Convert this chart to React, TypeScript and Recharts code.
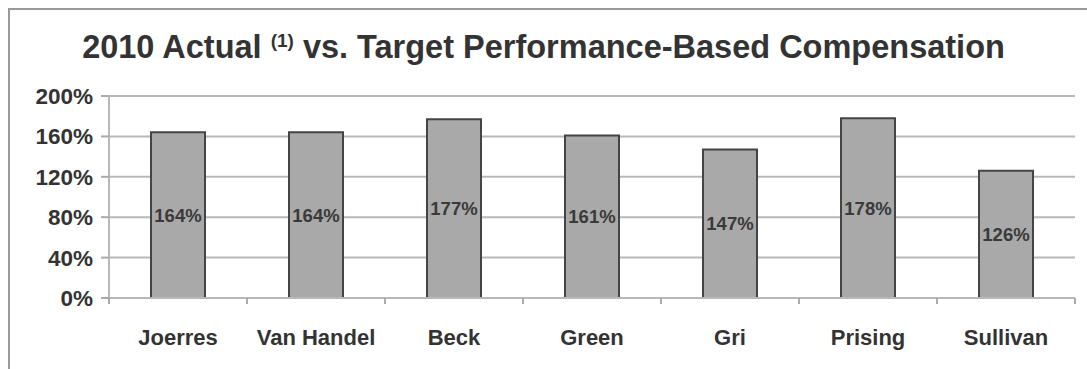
import { BarChart, Bar, XAxis, YAxis, CartesianGrid, LabelList } from "recharts";

const names = ["Joerres", "Van Handel", "Beck", "Green", "Gri", "Prising", "Sullivan"];
const actualPct = [164, 164, 177, 161, 147, 178, 126];
const yTicks = [0, 40, 80, 120, 160, 200];

const data = names.map((name, i) => ({ name, value: actualPct[i] }));

const FONT = "'Liberation Sans', Arial, Helvetica, sans-serif";
const BAND = (1075 - 109) / names.length;

// category labels with tick marks on the band edges (like the original)
function CategoryTick(props: any) {
  const { x, y, payload, index } = props;
  const last = index === names.length - 1;
  return (
    <g>
      <line x1={x - BAND / 2} y1={y - 8} x2={x - BAND / 2} y2={y - 2} stroke="#aaa" strokeWidth={2} />
      {last && (
        <line x1={x + BAND / 2} y1={y - 8} x2={x + BAND / 2} y2={y - 2} stroke="#aaa" strokeWidth={2} />
      )}
      <text
        x={x}
        y={y + 39}
        textAnchor="middle"
        fontFamily={FONT}
        fontWeight="bold"
        fontSize={22}
        fill="#333"
      >
        {payload.value}
      </text>
    </g>
  );
}

export default function App() {
  return (
    <div style={{ position: "absolute", left: 0, top: 0, width: 1087, height: 369, background: "#fff" }}>
      <div
        style={{
          position: "absolute",
          left: 8,
          top: 8,
          right: 0,
          bottom: 0,
          borderTop: "2px solid #999",
          borderLeft: "2px solid #999",
        }}
      />
      <div
        style={{
          position: "absolute",
          left: 0,
          width: 1087,
          top: 27,
          textAlign: "center",
          fontFamily: FONT,
          fontWeight: "bold",
          fontSize: 32.5,
          color: "#333",
          lineHeight: "40px",
        }}
      >
        2010 Actual <sup style={{ fontSize: 19, verticalAlign: "top", position: "relative", top: -6 }}>(1)</sup> vs. Target
        Performance-Based Compensation
      </div>
      <div style={{ position: "absolute", left: 0, top: 0 }}>
        <BarChart
          width={1087}
          height={369}
          data={data}
          margin={{ top: 96, right: 12, bottom: 31, left: 0 }}
          barCategoryGap="30%"
        >
          <CartesianGrid vertical={false} stroke="#b8b8b8" strokeWidth={2} />
          <XAxis
            dataKey="name"
            axisLine={{ stroke: "#b8b8b8", strokeWidth: 2 }}
            tickLine={false}
            tick={<CategoryTick />}
            height={40}
            interval={0}
          />
          <YAxis
            domain={[0, 200]}
            ticks={yTicks}
            width={109}
            interval={0}
            tickFormatter={(v: number) => `${v}%`}
            axisLine={{ stroke: "#b8b8b8", strokeWidth: 2 }}
            tickLine={{ stroke: "#aaa", strokeWidth: 2 }}
            tickSize={8}
            tickMargin={8}
            tick={{ fontFamily: FONT, fontWeight: "bold", fontSize: 22.5, fill: "#333" }}
          />
          <Bar dataKey="value" fill="#a9a9a9" stroke="#444" strokeWidth={2} barSize={54} isAnimationActive={false}>
            <LabelList
              dataKey="value"
              position="center"
              formatter={(v: any) => `${v}%`}
              style={{ fontFamily: FONT, fontSize: 18.5, fontWeight: "bold", fill: "#3a3a3a" }}
            />
          </Bar>
        </BarChart>
      </div>
    </div>
  );
}
